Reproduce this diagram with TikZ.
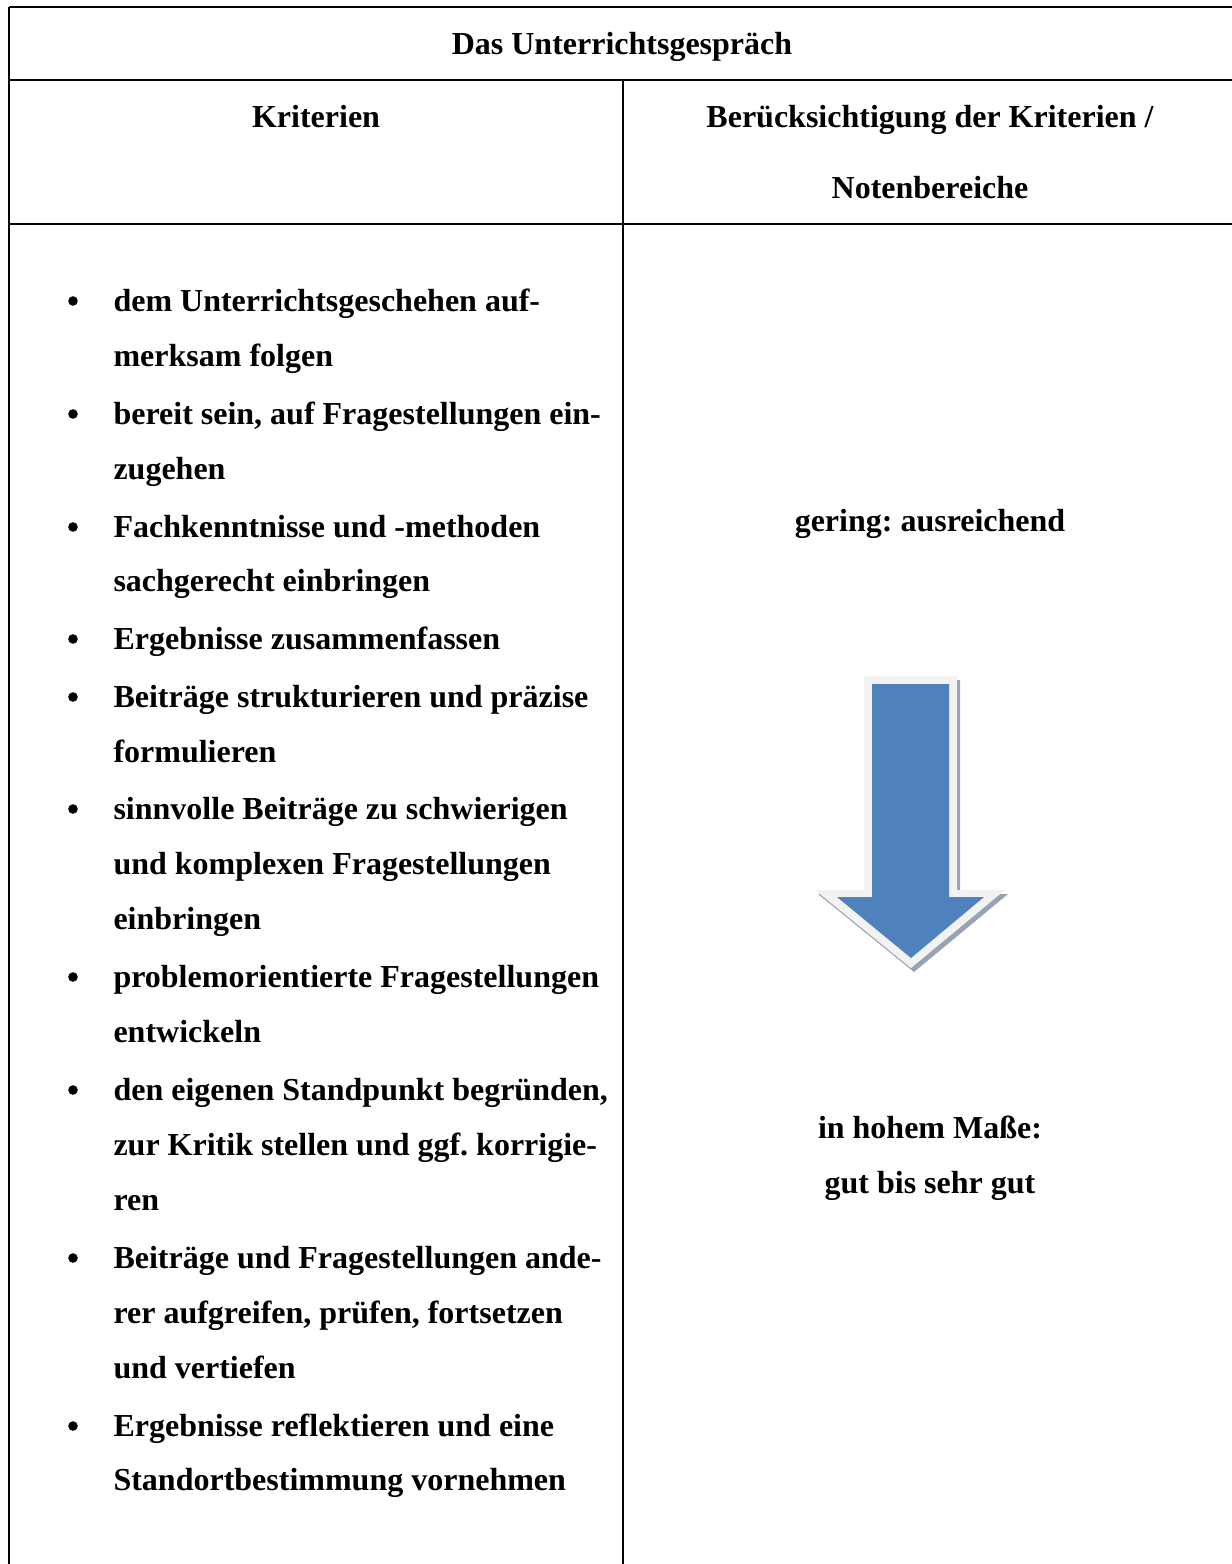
\documentclass[tikz,border=0pt]{standalone}
\usepackage{fontspec}
\setmainfont{Liberation Serif}
\frenchspacing
\begin{document}
\begin{tikzpicture}[x=0.375pt,y=-0.375pt,
  rule/.style={line width=0.8pt,black},
  txt/.style={inner sep=0pt,font=\bfseries\fontsize{12}{14}\selectfont\frenchspacing},
  item/.style={txt,anchor=base west},
  ctr/.style={txt,anchor=base},
  bul/.style={circle,fill=black,inner sep=0pt,minimum size=3.6pt}]
\useasboundingbox (0,0) rectangle (1232,1564);
% table rules
\draw[rule] (9,7) -- (1232,7);
\draw[rule] (9,80) -- (1232,80);
\draw[rule] (9,224) -- (1232,224);
\draw[rule] (9,7) -- (9,1564);
\draw[rule] (623,80) -- (623,1564);
% headers
\node[ctr] (title) at (622,54) {Das Unterrichtsgespräch};
\node[ctr] (krit) at (316,127) {Kriterien};
\node[ctr] (ber1) at (930,127) {Berücksichtigung der Kriterien /};
\node[ctr] (ber2) at (930,198) {Notenbereiche};
% list
\foreach \y/\t [count=\i] in {
 311/{dem Unterrichtsgeschehen auf-},
 366/{merksam folgen},
 424/{bereit sein, auf Fragestellungen ein-},
 479/{zugehen},
 537/{Fachkenntnisse und -methoden},
 591/{sachgerecht einbringen},
 649/{Ergebnisse zusammenfassen},
 707/{Beiträge strukturieren und präzise},
 762/{formulieren},
 819/{sinnvolle Beiträge zu schwierigen},
 874/{und komplexen Fragestellungen},
 929/{einbringen},
 987/{problemorientierte Fragestellungen},
 1042/{entwickeln},
 1100/{den eigenen Standpunkt begründen,},
 1155/{zur Kritik stellen und ggf. korrigie-},
 1210/{ren},
 1268/{Beiträge und Fragestellungen ande-},
 1323/{rer aufgreifen, prüfen, fortsetzen},
 1378/{und vertiefen},
 1436/{Ergebnisse reflektieren und eine},
 1490/{Standortbestimmung vornehmen}}
 {\node[item] (l\i) at (113,\y) {\t};}
\foreach \y [count=\i] in {301,414,527,639,697,809,977,1090,1258,1426}
 {\node[bul] (b\i) at (73,\y) {};}
% right column
\node[ctr] (low) at (930,531) {gering: ausreichend};
\node[ctr] (high1) at (930,1138) {in hohem Maße:};
\node[ctr] (high2) at (930,1193) {gut bis sehr gut};
% arrow
\fill[color={rgb,255:red,149;green,163;blue,180}]
  (867,680) -- (960,680) -- (960,894) -- (1008,894) -- (914,972) -- (818,894) -- (867,894) -- cycle;
\fill[color={rgb,255:red,242;green,242;blue,242}]
  (864,676) -- (957,676) -- (957,890) -- (1005,890) -- (911,968) -- (815,890) -- (864,890) -- cycle;
\fill[color={rgb,255:red,79;green,129;blue,189}]
  (872,684) -- (949,684) -- (949,897) -- (984,897) -- (911,958) -- (837,897) -- (872,897) -- cycle;
\end{tikzpicture}
\end{document}
